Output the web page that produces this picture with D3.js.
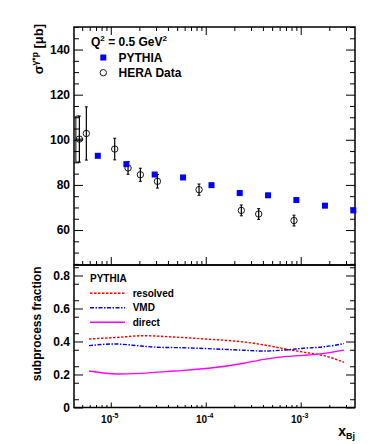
<!DOCTYPE html>
<html>
<head>
<meta charset="utf-8">
<script src="https://cdn.jsdelivr.net/npm/d3@7"></script>
<style>
  body { margin: 0; background: #fff; }
  svg { font-family: "Liberation Sans", Arial, sans-serif; font-weight: bold; }
</style>
</head>
<body>
<div id="chart"></div>
<script>
// PYTHIA points (blue squares)
const pythiaX = [7.3e-6, 1.46e-5, 2.9e-5, 5.77e-5, 1.15e-4, 2.28e-4, 4.53e-4, 9.0e-4, 1.8e-3, 3.58e-3];
const pythiaY = [92.9, 89.2, 84.6, 83.3, 79.9, 76.4, 75.4, 73.3, 70.8, 68.7];

// HERA data (open circles, with errors)
const heraX = [4.67e-6, 5.53e-6, 1.1e-5, 1.52e-5, 2.05e-5, 3.1e-5, 8.5e-5, 2.37e-4, 3.61e-4, 8.5e-4];
const heraY = [100.3, 102.8, 95.9, 87.5, 84.5, 81.6, 77.9, 68.7, 67.1, 64.2];
const heraErr = [10.2, 11.8, 4.8, 2.8, 2.9, 3.0, 2.5, 2.4, 2.4, 2.4];

// subprocess fractions
const resolvedX = [5.9e-6, 1.17e-5, 2.24e-5, 4.64e-5, 1.13e-4, 1.99e-4, 3.22e-4, 5.24e-4, 7.53e-4, 1.17e-3, 1.76e-3, 2.86e-3];
const resolvedY = [0.415, 0.425, 0.435, 0.427, 0.413, 0.403, 0.389, 0.368, 0.35, 0.332, 0.314, 0.274];
const vmdX = [5.9e-6, 1.08e-5, 2.07e-5, 3.1e-5, 5.91e-5, 1.22e-4, 2.53e-4, 4.11e-4, 6.67e-4, 1.08e-3, 1.76e-3, 2.86e-3];
const vmdY = [0.375, 0.385, 0.373, 0.365, 0.362, 0.355, 0.347, 0.342, 0.348, 0.359, 0.368, 0.387];
const directX = [5.9e-6, 1.17e-5, 2.07e-5, 4.64e-5, 1.13e-4, 2.53e-4, 4.11e-4, 6.67e-4, 1.08e-3, 1.76e-3, 2.86e-3];
const directY = [0.221, 0.203, 0.207, 0.221, 0.239, 0.268, 0.292, 0.308, 0.316, 0.328, 0.348];

const topTicks = [60, 80, 100, 120, 140];
const botTicks = [0, 0.2, 0.4, 0.6, 0.8];
const xMajor = [1e-5, 1e-4, 1e-3];
const xMajorExp = ["-5", "-4", "-3"];

const W = 374, H = 444;
const L = 74, R = 355, T = 27, MID = 265, B = 407.5;

const svg = d3.select("#chart").append("svg").attr("width", W).attr("height", H);

const x = d3.scaleLog().domain([4.1e-6, 3.73e-3]).range([L, R]);
const yTop = d3.scaleLinear().domain([44.5, 150]).range([MID, T]);
const yBot = d3.scaleLinear().domain([0, 0.8636]).range([B, MID]);

const xMinor = [];
for (let k = -6; k <= -3; k++) for (let m = 2; m <= 9; m++) {
  const v = m * Math.pow(10, k);
  if (v > x.domain()[0] && v < x.domain()[1]) xMinor.push(v);
}

const styleAxis = g => {
  g.select(".domain").remove();
  g.selectAll(".tick line").attr("stroke", "#000").attr("stroke-width", 1);
  g.selectAll(".tick text").attr("font-size", 12).attr("font-weight", "bold").attr("font-family", "Liberation Sans, Arial, sans-serif").attr("fill", "#000");
};

// y axes
const yAxes = (scale, major, minor, fmt) => {
  svg.append("g").attr("transform", `translate(${L},0)`)
    .call(d3.axisLeft(scale).tickValues(minor).tickSize(-5).tickFormat("")).call(styleAxis);
  svg.append("g").attr("transform", `translate(${L},0)`)
    .call(d3.axisLeft(scale).tickValues(major).tickSize(-9).tickPadding(4).tickFormat(fmt)).call(styleAxis);
  svg.append("g").attr("transform", `translate(${R},0)`)
    .call(d3.axisRight(scale).tickValues(minor).tickSize(-5).tickFormat("")).call(styleAxis);
  svg.append("g").attr("transform", `translate(${R},0)`)
    .call(d3.axisRight(scale).tickValues(major).tickSize(-9).tickFormat("")).call(styleAxis);
};
yAxes(yTop, topTicks, d3.range(45, 151, 5).filter(v => v % 20 !== 0), d3.format("d"));
yAxes(yBot, botTicks, d3.range(0.05, 0.86, 0.1), d => d === 0 ? "0" : d3.format(".1f")(d));

// x axes
const xAxis = (y, dir, major, minor) => {
  const mk = dir === "top" ? d3.axisTop : d3.axisBottom;
  svg.append("g").attr("transform", `translate(0,${y})`)
    .call(mk(x).tickValues(xMinor).tickSize(-minor).tickFormat("")).call(styleAxis);
  svg.append("g").attr("transform", `translate(0,${y})`)
    .call(mk(x).tickValues(xMajor).tickSize(-major).tickFormat("")).call(styleAxis);
};
xAxis(T, "top", 8, 4);
xAxis(MID, "bottom", 8, 4);
xAxis(B, "bottom", 5, 2.5);

// frames
svg.append("rect").attr("x", L).attr("y", T).attr("width", R - L).attr("height", MID - T)
  .attr("fill", "none").attr("stroke", "#000").attr("stroke-width", 1.5);
svg.append("rect").attr("x", L).attr("y", MID).attr("width", R - L).attr("height", B - MID)
  .attr("fill", "none").attr("stroke", "#000").attr("stroke-width", 1.5);

// x tick labels
const xl = svg.append("g").selectAll("text").data(xMajor).join("text")
  .attr("x", d => x(d) - 1).attr("y", 422.5).attr("text-anchor", "middle").attr("font-size", 10);
xl.append("tspan").text("10");
xl.append("tspan").attr("dy", -4.5).attr("font-size", 7).text((d, i) => xMajorExp[i]);

// axis titles
const xt = svg.append("text").attr("x", R).attr("y", 435.5).attr("text-anchor", "end").attr("font-size", 14);
xt.append("tspan").text("x");
xt.append("tspan").attr("dy", 3).attr("font-size", 9).text("Bj");

const yt = svg.append("text").attr("transform", `translate(43,24) rotate(-90)`)
  .attr("text-anchor", "end").attr("font-size", 13);
yt.append("tspan").text("σ");
yt.append("tspan").attr("dy", -5).attr("font-size", 8.5).text("γ*p");
yt.append("tspan").attr("dy", 5).text(" [μb]");

svg.append("text").attr("transform", `translate(41,266.5) rotate(-90)`)
  .attr("text-anchor", "end").attr("font-size", 12).text("subprocess fraction");

// HERA data
const hera = heraX.map((v, i) => ({ x: v, y: heraY[i], e: heraErr[i] }));
const gh = svg.append("g");
gh.selectAll("line.err").data(hera).join("line")
  .attr("x1", d => x(d.x)).attr("x2", d => x(d.x))
  .attr("y1", d => yTop(d.y + d.e)).attr("y2", d => yTop(d.y - d.e))
  .attr("stroke", "#000").attr("stroke-width", 1.2);
gh.selectAll("line.cap").data(hera.flatMap(d => [d.y + d.e, d.y - d.e].map(v => ({ x: d.x, v }))))
  .join("line")
  .attr("x1", d => x(d.x) - 1.5).attr("x2", d => x(d.x) + 1.5)
  .attr("y1", d => yTop(d.v)).attr("y2", d => yTop(d.v))
  .attr("stroke", "#000").attr("stroke-width", 1);
// bracket on first point
const h0 = hera[0];
gh.append("path")
  .attr("d", `M${x(h0.x)},${yTop(h0.y + h0.e)}H${x(h0.x) - 3.5}V${yTop(h0.y - h0.e)}H${x(h0.x)}M${x(h0.x) - 3.5},${yTop(h0.y)}H${x(h0.x) + 4}`)
  .attr("fill", "none").attr("stroke", "#000").attr("stroke-width", 1);
gh.selectAll("circle").data(hera).join("circle")
  .attr("cx", d => x(d.x)).attr("cy", d => yTop(d.y)).attr("r", 3.2)
  .attr("fill", "none").attr("stroke", "#000").attr("stroke-width", 0.9);

// PYTHIA squares
svg.append("g").selectAll("rect").data(pythiaX).join("rect")
  .attr("x", (d) => x(d) - 3).attr("y", (d, i) => yTop(pythiaY[i]) - 3)
  .attr("width", 6).attr("height", 6).attr("fill", "#0000ff");

// top legend
const q = svg.append("text").attr("x", 91).attr("y", 46).attr("font-size", 12);
q.append("tspan").text("Q");
q.append("tspan").attr("dy", -5).attr("font-size", 8).text("2");
q.append("tspan").attr("dy", 5).text(" = 0.5 GeV");
q.append("tspan").attr("dy", -5).attr("font-size", 8).text("2");
svg.append("rect").attr("x", 100.3).attr("y", 54.5).attr("width", 6).attr("height", 6).attr("fill", "#0000ff");
svg.append("text").attr("x", 118.5).attr("y", 61.5).attr("font-size", 12).text("PYTHIA");
svg.append("circle").attr("cx", 103.3).attr("cy", 72.7).attr("r", 3.2)
  .attr("fill", "none").attr("stroke", "#000").attr("stroke-width", 0.9);
svg.append("text").attr("x", 118.5).attr("y", 76.8).attr("font-size", 12).text("HERA Data");

// subprocess curves
const series = [
  { name: "resolved", xs: resolvedX, ys: resolvedY, color: "#ff0000", dash: "2.5,1.5" },
  { name: "VMD", xs: vmdX, ys: vmdY, color: "#0000ff", dash: "4,1.5,1.5,1.5" },
  { name: "direct", xs: directX, ys: directY, color: "#ff00ff", dash: null }
];
const line = d3.line().x(d => x(d[0])).y(d => yBot(d[1])).curve(d3.curveMonotoneX);
series.forEach(s => {
  svg.append("path").datum(s.xs.map((v, i) => [v, s.ys[i]]))
    .attr("d", line).attr("fill", "none").attr("stroke", s.color)
    .attr("stroke-width", 1.4).attr("stroke-dasharray", s.dash);
});

// bottom legend
svg.append("text").attr("x", 90).attr("y", 282).attr("font-size", 10).text("PYTHIA");
series.forEach((s, i) => {
  const yy = 293.3 + i * 14.5;
  svg.append("line").attr("x1", 90).attr("x2", 125).attr("y1", yy).attr("y2", yy)
    .attr("stroke", s.color).attr("stroke-width", 1.4).attr("stroke-dasharray", s.dash);
  svg.append("text").attr("x", 132.7).attr("y", yy + 3.5).attr("font-size", 10).text(s.name);
});
</script>
</body>
</html>
